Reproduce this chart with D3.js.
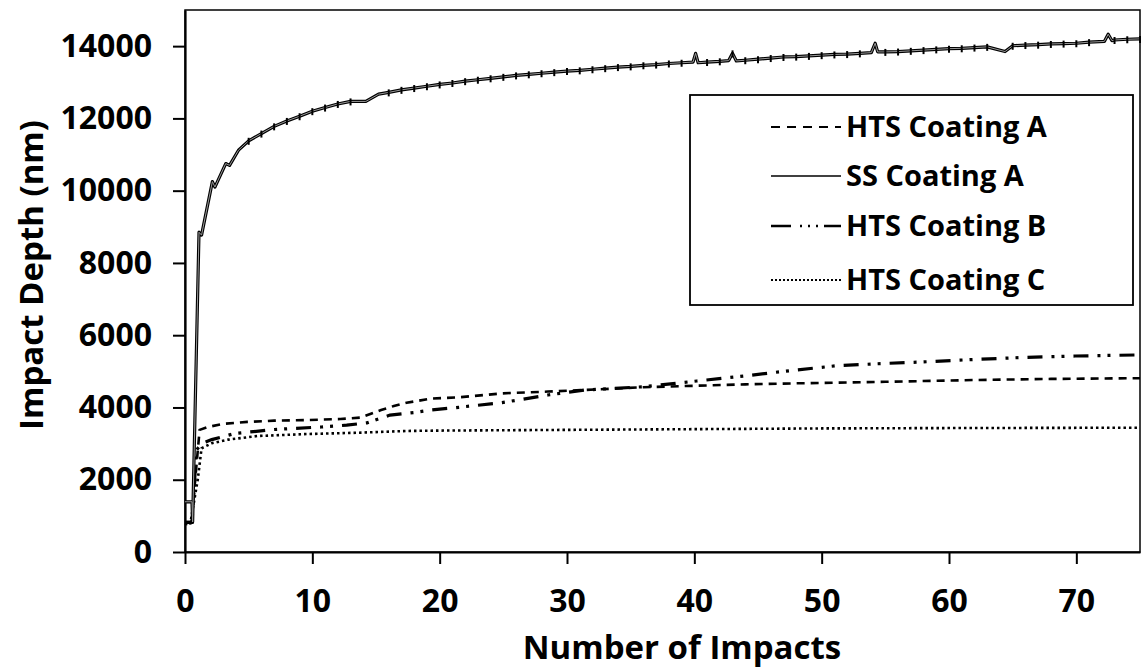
<!DOCTYPE html>
<html lang="en">
<head>
<meta charset="UTF-8">
<title>Impact Depth vs Number of Impacts</title>
<script src="https://d3js.org/d3.v7.min.js"></script>
<style>
    body { margin: 0; background: #fff; }
    svg text { font-family: "Open Sans", sans-serif; font-weight: bold; fill: #000; }
</style>
</head>
<body>
<div id="chart"></div>
<script>
// x = number of impacts, y = impact depth (nm)
const ssA = [
    [0, 1390], [0.55, 1390], [0.6, 830], [1.1, 8850], [1.3, 8770], [2.15, 10250], [2.35, 10100],
    [3.2, 10750], [3.5, 10700], [4.2, 11120], [5, 11380], [6, 11580], [7, 11780], [8, 11930],
    [9, 12060], [10, 12200], [11, 12300], [12, 12400], [13, 12470], [14.2, 12470], [15.2, 12670],
    [16, 12720], [17, 12790], [18, 12840], [19, 12890], [20, 12940], [21, 12980], [22, 13030],
    [23, 13070], [24, 13110], [25, 13150], [26, 13190], [27, 13220], [28, 13250], [29, 13280],
    [30, 13310], [31, 13330], [32, 13360], [33, 13390], [34, 13420], [35, 13440], [36, 13470],
    [37, 13490], [38, 13520], [39, 13540], [39.9, 13560], [40.1, 13800], [40.3, 13540], [41, 13560],
    [42, 13580], [42.7, 13600], [43, 13800], [43.3, 13590], [44, 13610], [45, 13640], [46, 13670],
    [47, 13700], [48, 13710], [49, 13730], [50, 13750], [51, 13770], [52, 13780], [53, 13800],
    [53.9, 13820], [54.2, 14080], [54.4, 13840], [55, 13840], [56, 13850], [57, 13870], [58, 13890],
    [59, 13910], [60, 13930], [61, 13940], [62, 13960], [63, 13980], [64.4, 13850], [65, 14010],
    [66, 14030], [67, 14040], [68, 14060], [69, 14070], [70, 14080], [71, 14110], [72.2, 14130],
    [72.5, 14330], [72.8, 14150], [73, 14170], [74, 14190], [75, 14200]
];
const htsA = [
    [0, 830], [0.5, 830], [1.15, 3380], [1.8, 3460], [3.1, 3550], [4.9, 3600], [7, 3635],
    [9.6, 3650], [12.2, 3680], [13.8, 3720], [15.4, 3930], [16.4, 4040], [17.4, 4130],
    [19.3, 4245], [21.5, 4280], [24.9, 4390], [28.5, 4440], [31.4, 4484], [36, 4560],
    [40, 4600], [44, 4640], [48, 4668], [55, 4710], [62, 4760], [68, 4790], [75, 4810]
];
const htsB = [
    [0, 820], [0.55, 820], [0.9, 2820], [1.3, 3000], [2.1, 3110], [3.9, 3280], [7, 3390],
    [10.7, 3460], [12.7, 3510], [14.3, 3575], [16.1, 3790], [18, 3860], [19.3, 3930],
    [21.5, 4004], [24.9, 4133], [28.5, 4345], [31.4, 4484], [36.1, 4576], [40.2, 4733],
    [43.9, 4871], [47.5, 5018], [51.2, 5156], [55.1, 5221], [58.4, 5267], [62.1, 5331],
    [66, 5387], [69.9, 5424], [75, 5455]
];
const htsC = [
    [0, 780], [0.4, 750], [1.0, 2000], [1.3, 2870], [2.1, 3010], [3.4, 3110], [5.7, 3210],
    [9.6, 3265], [13.5, 3300], [17.4, 3350], [20, 3360], [30, 3380], [40, 3400],
    [50, 3420], [60, 3430], [75, 3440]
];
const seriesNames = ["HTS Coating A", "SS Coating A", "HTS Coating B", "HTS Coating C"];
const xTicks = [0, 10, 20, 30, 40, 50, 60, 70];
const yTicks = [0, 2000, 4000, 6000, 8000, 10000, 12000, 14000];

const svg = d3.select("#chart").append("svg")
    .attr("width", 1145)
    .attr("height", 670);

const margin = {top: 10, right: 5, bottom: 118, left: 185},
      width = 1145 - margin.left - margin.right,
      height = 670 - margin.top - margin.bottom,
      g = svg.append("g").attr("transform", `translate(${margin.left},${margin.top})`);

const x = d3.scaleLinear().domain([0, 75]).range([0, width]);
const y = d3.scaleLinear().domain([0, 15000]).range([height, 0]);

// plot frame
g.append("rect")
    .attr("width", width).attr("height", height)
    .attr("fill", "none").attr("stroke", "#000").attr("stroke-width", 1.5);

// axes
const xAxis = g.append("g")
    .attr("transform", `translate(0,${height})`)
    .call(d3.axisBottom(x).tickValues(xTicks).tickFormat(d3.format("d"))
        .tickSize(12).tickPadding(25).tickSizeOuter(0));
const yAxis = g.append("g")
    .call(d3.axisLeft(y).tickValues(yTicks).tickFormat(d3.format("d"))
        .tickSize(12).tickPadding(21).tickSizeOuter(0));
[xAxis, yAxis].forEach(a => {
    a.select(".domain").attr("stroke-width", 2.2);
    a.selectAll(".tick line").attr("stroke-width", 2);
    a.selectAll("text").style("font-size", "32px");
});

// axis titles
svg.append("text")
    .attr("x", 682).attr("y", 659)
    .attr("text-anchor", "middle")
    .style("font-size", "33px")
    .text("Number of Impacts");
svg.append("text")
    .attr("transform", "translate(43,275) rotate(-90)")
    .attr("text-anchor", "middle")
    .style("font-size", "33px")
    .text("Impact Depth (nm)");

const line = d3.line().x(d => x(d[0])).y(d => y(d[1]));

const styles = [
    {data: htsA, dash: "8,6", w: 2.6},
    {data: ssA, dash: null, w: 3.2},
    {data: htsB, dash: "15,9,3,7,3,9", w: 3.2},
    {data: htsC, dash: "2.5,3", w: 2.6}
];

// HTS lines
[0, 2, 3].forEach(i => {
    g.append("path")
        .datum(styles[i].data)
        .attr("fill", "none")
        .attr("stroke", "#000")
        .attr("stroke-width", styles[i].w)
        .attr("stroke-dasharray", styles[i].dash)
        .attr("d", line);
});

// SS Coating A: dark outline with a light core, small spikes at the points
g.append("path")
    .datum(ssA)
    .attr("fill", "none").attr("stroke", "#000").attr("stroke-width", 3.2)
    .attr("stroke-linejoin", "round")
    .attr("d", line);
g.append("path")
    .datum(ssA)
    .attr("fill", "none").attr("stroke", "#9a9a9a").attr("stroke-width", 1)
    .attr("stroke-linejoin", "round")
    .attr("d", line);
g.selectAll(".spike")
    .data(ssA.filter(d => d[0] >= 3 && Number.isInteger(d[0])))
    .enter().append("line")
    .attr("class", "spike")
    .attr("x1", d => x(d[0])).attr("x2", d => x(d[0]))
    .attr("y1", d => y(d[1]) - 3).attr("y2", d => y(d[1]) + 4)
    .attr("stroke", "#000").attr("stroke-width", 2);

// legend
const legend = svg.append("g");
legend.append("rect")
    .attr("x", 690).attr("y", 95).attr("width", 443).attr("height", 210)
    .attr("fill", "#fff").attr("stroke", "#000").attr("stroke-width", 1.8);

const rowY = [127, 176, 226, 280];
seriesNames.forEach((name, i) => {
    const row = legend.append("g").attr("transform", `translate(0,${rowY[i]})`);
    row.append("line")
        .attr("x1", 771).attr("x2", 841)
        .attr("stroke", "#000")
        .attr("stroke-width", i === 1 ? 1.6 : styles[i].w * 0.8)
        .attr("stroke-dasharray", i === 0 ? "9,7" : i === 2 ? "20,9,2,6,2,6,2,6" : i === 3 ? "2,2" : null);
    row.append("text")
        .attr("x", 846).attr("dy", "0.36em")
        .style("font-size", "29px")
        .text(name);
});
</script>
</body>
</html>
